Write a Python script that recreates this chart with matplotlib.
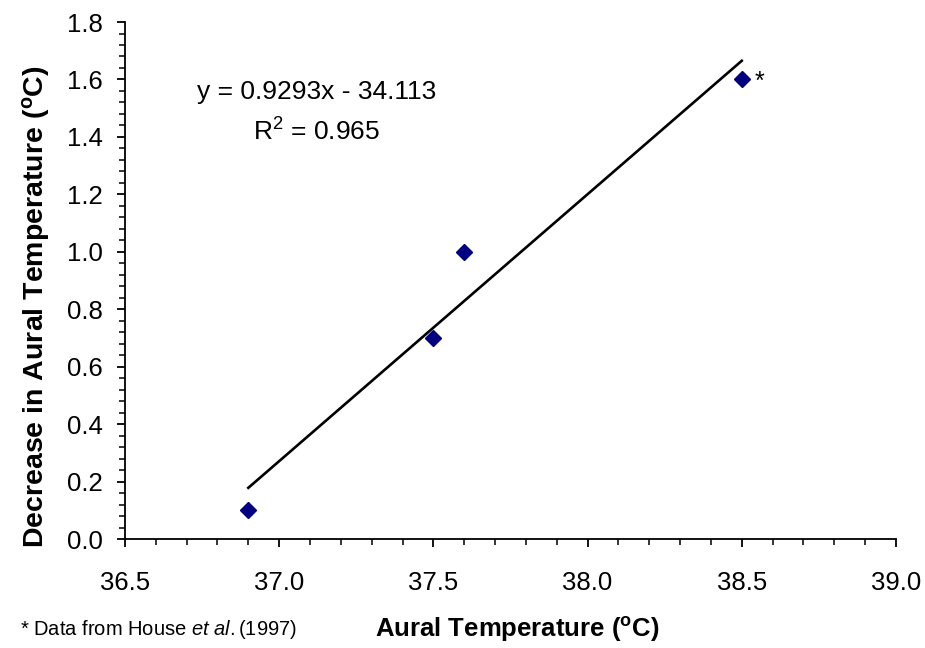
import numpy as np
import matplotlib
matplotlib.use('Agg')
import matplotlib.pyplot as plt
from matplotlib.ticker import MultipleLocator, FormatStrFormatter

plt.rcParams['font.family'] = ['Liberation Sans', 'DejaVu Sans']
plt.rcParams['mathtext.fontset'] = 'custom'
plt.rcParams['mathtext.rm'] = 'Liberation Sans'
plt.rcParams['mathtext.bf'] = 'Liberation Sans:bold'
plt.rcParams['mathtext.it'] = 'Liberation Sans:italic'

# Données
aural_temp = [36.9, 37.5, 37.6, 38.5]
decrease = [0.1, 0.7, 1.0, 1.6]
slope = 0.9293
intercept = -34.113
r2 = 0.965

fig = plt.figure(figsize=(9.25, 6.48), dpi=100)
ax = fig.add_axes([0.1351, 0.1682, 0.8335, 0.7978])

# Points et droite de régression
ax.plot(aural_temp, decrease, 'D', color='#000080', markersize=8.5, zorder=3)
x_fit = np.array([min(aural_temp), max(aural_temp)])
ax.plot(x_fit, slope * x_fit + intercept, color='black', linewidth=1.9)

# Annotations
ax.text(37.12, 1.556, f'y = {slope}x - {abs(intercept)}', ha='center', va='center', fontsize=19)
ax.text(37.12, 1.417, rf'R$^{{2}}$ = {r2}', ha='center', va='center', fontsize=19)
ax.annotate('*', (aural_temp[-1], decrease[-1]), xytext=(13, -2), textcoords='offset points',
            fontsize=18, ha='center', va='center')

# Axes
ax.set_xlim(36.5, 39.0)
ax.set_ylim(0.0, 1.8)
ax.xaxis.set_major_locator(MultipleLocator(0.5))
ax.xaxis.set_minor_locator(MultipleLocator(0.1))
ax.yaxis.set_major_locator(MultipleLocator(0.2))
ax.yaxis.set_minor_locator(MultipleLocator(0.04))
ax.xaxis.set_major_formatter(FormatStrFormatter('%.1f'))
ax.yaxis.set_major_formatter(FormatStrFormatter('%.1f'))
ax.tick_params(which='major', direction='out', length=6, width=1.3, labelsize=18.5)
ax.tick_params(which='minor', direction='out', length=4, width=1.1)
ax.tick_params(axis='x', which='major', pad=17)
ax.tick_params(axis='y', which='major', pad=10)
for s in ['top', 'right']:
    ax.spines[s].set_visible(False)
for s in ['left', 'bottom']:
    ax.spines[s].set_linewidth(1.3)

fig.text(0.039, 0.526, r'Decrease in Aural Temperature ($^{\mathbf{o}}$C)', fontsize=20.5,
         fontweight='bold', rotation=90, ha='center', va='center')
fig.text(0.559, 0.028, r'Aural Temperature ($^{\mathbf{o}}$C)', fontsize=18.5, fontweight='bold',
         ha='center', va='center')
fig.text(0.022, 0.029, r'* Data from House $\mathit{et\ al.}$(1997)', fontsize=14.5,
         ha='left', va='center')

fig.savefig('out.png', dpi=100)
